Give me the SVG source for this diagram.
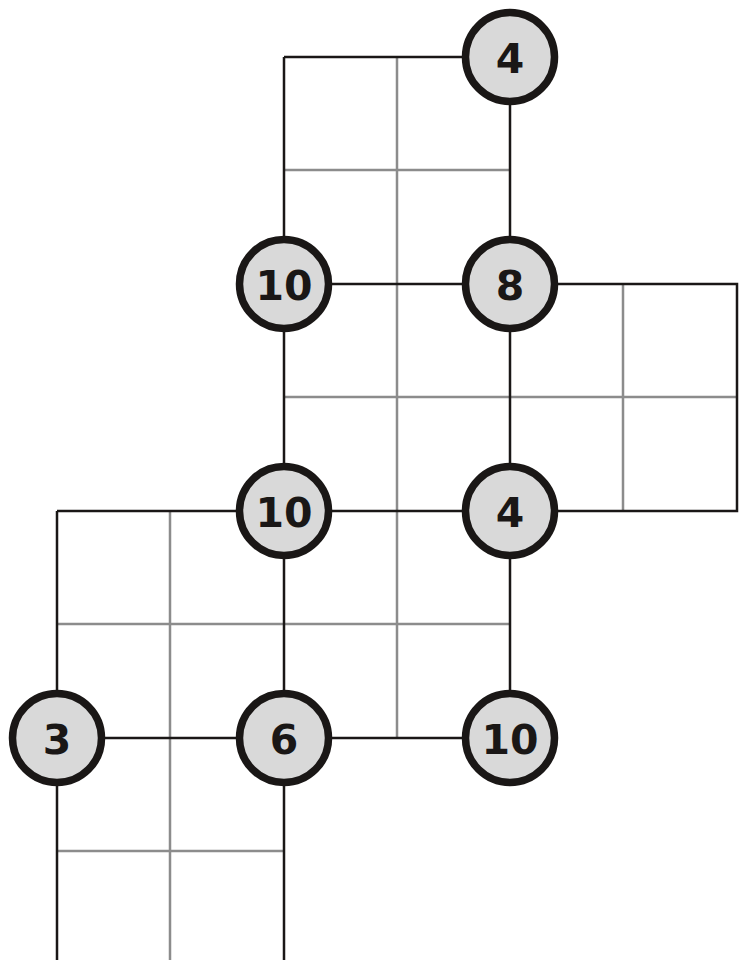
<svg xmlns="http://www.w3.org/2000/svg" width="747" height="960" viewBox="0 0 747 960">
<style>
.g{stroke:#8c8c8c;stroke-width:2.5;fill:none}
.k{stroke:#1a1716;stroke-width:2.5;fill:none}
.n circle{fill:#d9d9d9;stroke:#1a1716;stroke-width:7.5}
.n text{font-family:"DejaVu Sans",sans-serif;font-weight:bold;font-size:41px;fill:#1a1716;text-anchor:middle;dominant-baseline:central}
</style>
<rect width="747" height="960" fill="#fff"/>
<g id="grid">
<path class="g" d="M397 57V738M284 170H510M284 397H737M623 284V511M170 511V960M57 624H510M57 851H284"/>
</g>
<g id="connectors">
<path class="k" d="M284 57H510M284 57V284M510 57V284M284 284H510M510 284H737V511H510M284 284V511M510 284V511M57 511H510M57 511V738M284 511V738M510 511V738M57 738H510M57 738V960M284 738V960"/>
</g>
<g id="n1" class="n"><circle cx="510" cy="57" r="44.5"/><text x="510" y="59">4</text></g>
<g id="n2" class="n"><circle cx="284" cy="284" r="44.5"/><text x="284" y="286">10</text></g>
<g id="n3" class="n"><circle cx="510" cy="284" r="44.5"/><text x="510" y="286">8</text></g>
<g id="n4" class="n"><circle cx="284" cy="511" r="44.5"/><text x="284" y="513">10</text></g>
<g id="n5" class="n"><circle cx="510" cy="511" r="44.5"/><text x="510" y="513">4</text></g>
<g id="n6" class="n"><circle cx="57" cy="738" r="44.5"/><text x="57" y="740">3</text></g>
<g id="n7" class="n"><circle cx="284" cy="738" r="44.5"/><text x="284" y="740">6</text></g>
<g id="n8" class="n"><circle cx="510" cy="738" r="44.5"/><text x="510" y="740">10</text></g>
</svg>
